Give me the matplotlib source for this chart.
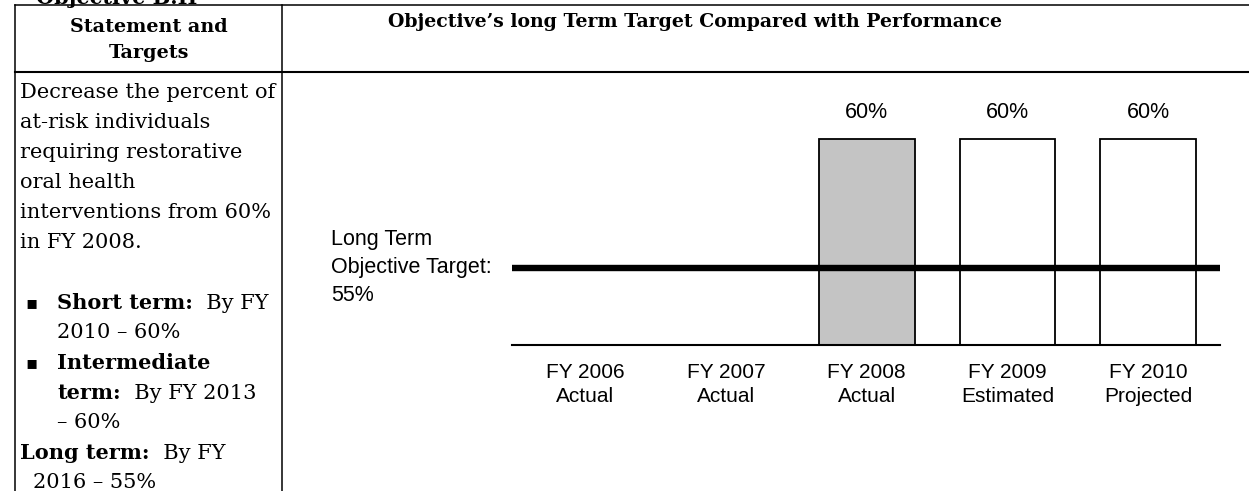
import matplotlib
matplotlib.use("Agg")
import matplotlib.pyplot as plt
from matplotlib.lines import Line2D
from matplotlib.text import Annotation
import numpy as np

# chart data
years = ["FY 2006\nActual", "FY 2007\nActual", "FY 2008\nActual",
         "FY 2009\nEstimated", "FY 2010\nProjected"]
values = [None, None, 60, 60, 60]
bar_colors = ["white", "white", "#c4c4c4", "white", "white"]
target = 55
target_label = "Long Term\nObjective Target:\n55%"

# table text
heading = "Objective B.II"
title_left = "Statement and\nTargets"
title_right = "Objective\u2019s long Term Target Compared with Performance"
# (bullet, bold part, regular part, indent px)
left_lines = [
    (False, "", "Decrease the percent of", 20),
    (False, "", "at-risk individuals", 20),
    (False, "", "requiring restorative", 20),
    (False, "", "oral health", 20),
    (False, "", "interventions from 60%", 20),
    (False, "", "in FY 2008.", 20),
    (False, "", "", 20),
    (True, "Short term:", "  By FY", 57),
    (False, "", "2010 \u2013 60%", 57),
    (True, "Intermediate", "", 57),
    (False, "term:", "  By FY 2013", 57),
    (False, "", "\u2013 60%", 57),
    (False, "Long term:", "  By FY", 20),
    (False, "", "2016 \u2013 55%", 33),
]

W, H = 1249, 491
fig = plt.figure(figsize=(W / 100, H / 100), dpi=100)

def fx(x):
    return x / W

def fy(y):
    return 1 - y / H

serif = "DejaVu Serif"
sans = "Liberation Sans"

# table grid
def hline(y, x0, x1, lw=1.1):
    fig.add_artist(Line2D([fx(x0), fx(x1)], [fy(y), fy(y)], transform=fig.transFigure,
                          color="black", lw=lw))

def vline(x, y0, y1, lw=1.1):
    fig.add_artist(Line2D([fx(x), fx(x)], [fy(y0), fy(y1)], transform=fig.transFigure,
                          color="black", lw=lw))

hline(5, 15, W)
hline(72, 15, W, lw=1.5)
vline(15, 5, H)
vline(282, 5, H)

# heading above the table, mostly cut off by the page crop
fig.text(fx(36), fy(4), heading, fontfamily=serif, fontweight="bold",
         fontsize=15, ha="left", va="baseline")

fig.text(fx(149), fy(40), title_left, fontfamily=serif, fontweight="bold",
         fontsize=13.8, ha="center", va="center", linespacing=1.5)
fig.text(fx(695), fy(22), title_right, fontfamily=serif, fontweight="bold",
         fontsize=13.6, ha="center", va="center")

y0, dy = 93, 30
for i, (bullet, bold, reg, x) in enumerate(left_lines):
    y = y0 + i * dy
    if bullet:
        fig.text(fx(25), fy(y), "\u25aa", fontfamily="DejaVu Sans", fontsize=13,
                 ha="left", va="center")
    if bold:
        t = fig.text(fx(x), fy(y), bold, fontfamily=serif, fontweight="bold",
                     fontsize=15, ha="left", va="center")
        if reg:
            fig.add_artist(Annotation(reg, xy=(1, 0), xycoords=t, va="bottom",
                                      ha="left", fontfamily=serif, fontsize=15))
    elif reg:
        fig.text(fx(x), fy(y), reg, fontfamily=serif, fontsize=15, ha="left", va="center")

# bar chart
ax = fig.add_axes([fx(512), 146 / H, 708 / W, 245 / H])
x = np.arange(len(years))
for xi, v, c in zip(x, values, bar_colors):
    if v is None:
        continue
    ax.bar(xi, v, width=0.68, color=c, edgecolor="black", linewidth=1.3, zorder=2)
    ax.annotate(f"{v}%", xy=(xi, v), xytext=(0, 19), textcoords="offset points",
                ha="center", va="center", fontfamily=sans, fontsize=15.5)

ax.axhline(target, color="black", lw=4.6, zorder=3)
ax.annotate(target_label, xy=(0, target), xycoords=("axes fraction", "data"),
            xytext=(-130, 0), textcoords="offset points", ha="left", va="center",
            fontfamily=sans, fontsize=15.5, linespacing=1.45)

ax.set_xlim(-0.52, 4.51)
ax.set_ylim(52, 61.52)
ax.set_xticks(x)
ax.set_xticklabels(years, fontfamily=sans, fontsize=15, linespacing=1.35)
ax.tick_params(axis="x", length=0, pad=13)
ax.set_yticks([])
for s in ["left", "right", "top"]:
    ax.spines[s].set_visible(False)
ax.spines["bottom"].set_linewidth(1.5)
ax.patch.set_alpha(0)

fig.savefig("out.png", dpi=100)
